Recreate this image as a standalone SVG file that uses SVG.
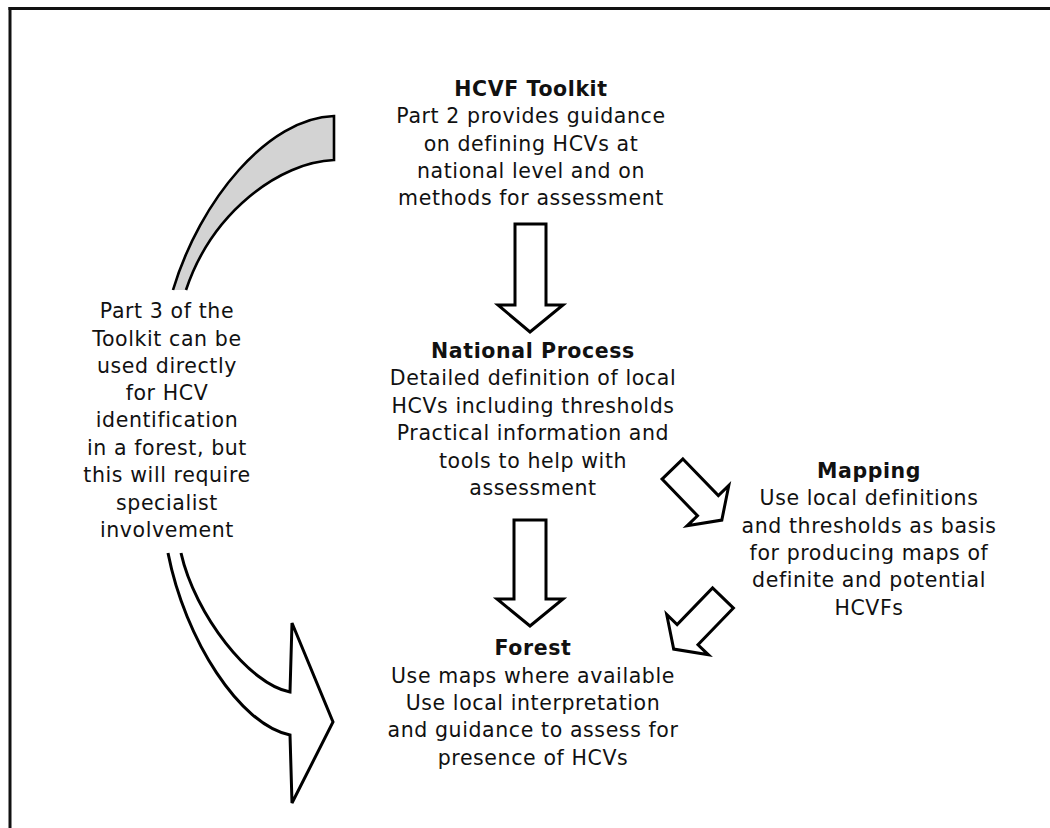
<svg xmlns="http://www.w3.org/2000/svg" width="1050" height="828" viewBox="0 0 1050 828">
<style>
  text { font-family: "DejaVu Sans", Verdana, sans-serif; font-size: 20.5px; letter-spacing: 0.6px; fill: #111; text-anchor: middle; }
  .b { font-weight: bold; }
  .arr { fill: #fff; stroke: #000; stroke-width: 3; stroke-linejoin: miter; }
  .gray { fill: #d3d3d3; stroke: #000; stroke-width: 2.6; }
</style>
<rect x="0" y="0" width="1050" height="828" fill="#fff"/>
<g id="frame" stroke="#111" stroke-width="3" fill="none">
  <line x1="8.5" y1="8.5" x2="1050" y2="8.5"/>
  <line x1="10" y1="7" x2="10" y2="828"/>
</g>
<g id="connectors">
  <path class="gray" d="M173,290 C200,200 268,118 334,116 L334,160 C280,162 212,212 186,290"/>
  <path class="arr" d="M181,553 C195,615 250,685 290,692 L292,623 L333,722 L292,803 L290,735 C240,725 185,640 168,553"/>
  <path class="arr" d="M515,224 L546,224 L546,305 L563,305 L530,332 L498,305 L515,305 Z"/>
  <path class="arr" d="M514,520 L546,520 L546,599 L563,599 L530,626 L497,599 L514,599 Z"/>
  <path class="arr" transform="translate(672.5,469) rotate(46)" d="M0,-14.5 L51,-14.5 L51,-29 L71,0 L51,29 L51,14.5 L0,14.5 Z"/>
  <path class="arr" transform="translate(723,598) rotate(134)" d="M0,-14.5 L51,-14.5 L51,-29 L71,0 L51,29 L51,14.5 L0,14.5 Z"/>
</g>
<g id="toolkit">
  <text class="b" x="531" y="96">HCVF Toolkit</text>
  <text x="531" y="123">Part 2 provides guidance</text>
  <text x="531" y="151">on defining HCVs at</text>
  <text x="531" y="178">national level and on</text>
  <text x="531" y="205">methods for assessment</text>
</g>
<g id="national">
  <text class="b" x="533" y="358">National Process</text>
  <text x="533" y="385">Detailed definition of local</text>
  <text x="533" y="413">HCVs including thresholds</text>
  <text x="533" y="440">Practical information and</text>
  <text x="533" y="468">tools to help with</text>
  <text x="533" y="495">assessment</text>
</g>
<g id="mapping">
  <text class="b" x="869" y="478">Mapping</text>
  <text x="869" y="505">Use local definitions</text>
  <text x="869" y="533">and thresholds as basis</text>
  <text x="869" y="560">for producing maps of</text>
  <text x="869" y="587">definite and potential</text>
  <text x="869" y="615">HCVFs</text>
</g>
<g id="forest">
  <text class="b" x="533" y="655">Forest</text>
  <text x="533" y="683">Use maps where available</text>
  <text x="533" y="710">Use local interpretation</text>
  <text x="533" y="737">and guidance to assess for</text>
  <text x="533" y="765">presence of HCVs</text>
</g>
<g id="part3">
  <text x="167" y="318">Part 3 of the</text>
  <text x="167" y="346">Toolkit can be</text>
  <text x="167" y="373">used directly</text>
  <text x="167" y="400">for HCV</text>
  <text x="167" y="427">identification</text>
  <text x="167" y="455">in a forest, but</text>
  <text x="167" y="482">this will require</text>
  <text x="167" y="510">specialist</text>
  <text x="167" y="537">involvement</text>
</g>
</svg>
